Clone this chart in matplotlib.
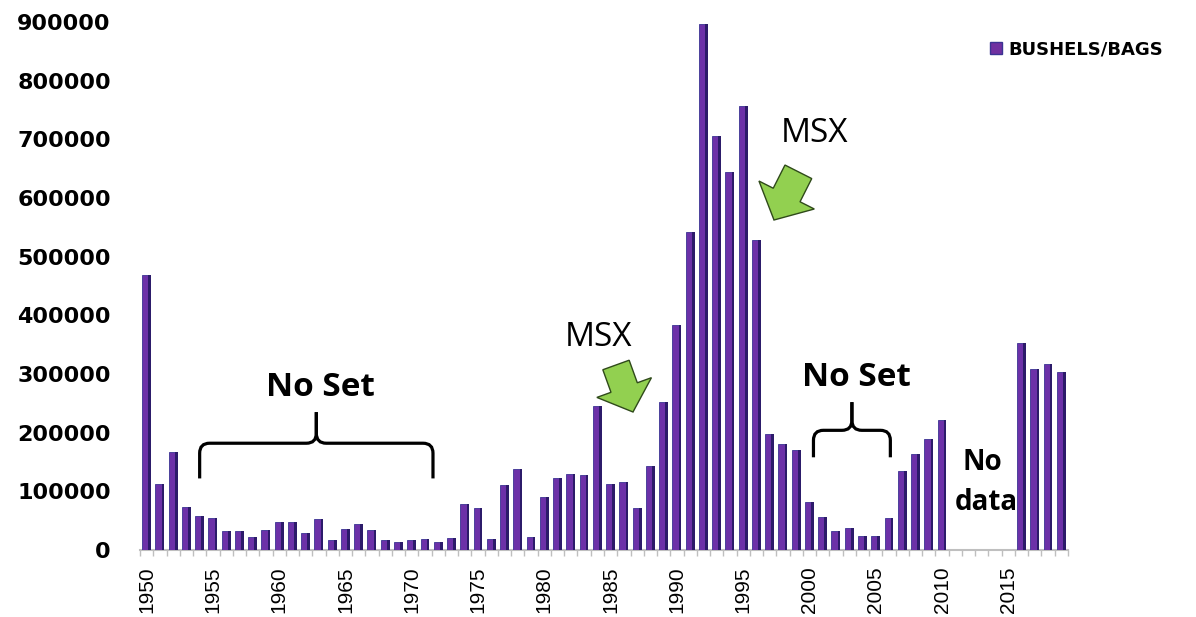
import numpy as np
import matplotlib.pyplot as plt
import matplotlib.patches as mpatches
from matplotlib.path import Path

# bushels/bags per year, None = no data
years = list(range(1950, 2020))
bushels = [469000, 112000, 167000, 73000, 58000, 55000, 33000, 32000, 22000, 34000,
           48000, 48000, 29000, 53000, 17000, 36000, 44000, 34000, 17000, 13000,
           17000, 18000, 13000, 20000, 78000, 72000, 18000, 111000, 138000, 23000,
           91000, 123000, 129000, 128000, 246000, 113000, 116000, 71000, 143000, 252000,
           383000, 542000, 897000, 706000, 645000, 757000, 528000, 197000, 181000, 171000,
           82000, 57000, 33000, 37000, 24000, 24000, 54000, 134000, 163000, 189000,
           222000, None, None, None, None, None, 352000, 308000, 317000, 304000]
yticks = list(range(0, 900001, 100000))

W, H = 1196, 617
fig = plt.figure(figsize=(W / 100, H / 100), dpi=100)
ax = fig.add_axes([140 / W, 1 - 550 / H, 928 / W, 528 / H])


def px(x, y):
    # pixel position (from top left) -> figure fraction
    return (x / W, 1 - y / H)


idx = np.arange(len(years))
have = np.array([v is not None for v in bushels])
vals = np.array([v if v is not None else 0 for v in bushels], dtype=float)

# front face + dark side to fake the 3d column look
ax.bar(idx[have] - 0.34, vals[have], width=0.47, align='edge',
       color='#6c31a8', edgecolor='#3b3393', linewidth=0.6, zorder=3)
ax.bar(idx[have] + 0.13, vals[have], width=0.2, align='edge',
       color='#2c1b6a', linewidth=0, zorder=3)

ax.set_xlim(-0.5, len(years) - 0.5)
ax.set_ylim(0, 900000)

ax.set_xticks(idx[::5])
ax.set_xticklabels([str(y) for y in years[::5]], rotation=90,
                   family='Liberation Sans', fontsize=15)
ax.set_xticks(np.arange(-0.5, len(years), 1), minor=True)
ax.tick_params(axis='x', which='major', length=0, pad=12)
ax.tick_params(axis='x', which='minor', length=4, color='#bfbfbf', width=1)

ax.set_yticks(yticks)
ax.set_yticklabels([str(v) for v in yticks], family='DejaVu Sans',
                   fontweight='bold', fontsize=16)
ax.tick_params(axis='y', length=0, pad=21)

for s in ['top', 'right', 'left']:
    ax.spines[s].set_visible(False)
ax.spines['bottom'].set_color('#bfbfbf')
ax.spines['bottom'].set_linewidth(1.5)


def brace(x0, x1, yb, yh, yt, rx=0.75, ry=17000):
    xm = (x0 + x1) / 2
    for a, sgn in [(x0, 1), (x1, -1)]:
        verts = [(a, yb), (a, yh - ry), (a, yh), (a + sgn * rx, yh),
                 (xm - sgn * rx, yh), (xm, yh), (xm, yh + ry), (xm, yt)]
        codes = [Path.MOVETO, Path.LINETO, Path.CURVE3, Path.CURVE3,
                 Path.LINETO, Path.CURVE3, Path.CURVE3, Path.LINETO]
        ax.add_patch(mpatches.PathPatch(Path(verts, codes), fill=False,
                                        lw=2.3, color='black', zorder=4,
                                        capstyle='butt'))


brace(4.0, 21.6, 122000, 182000, 235000)
brace(50.3, 56.1, 158000, 204000, 252000)


def block_arrow(tip, direction, head_len, head_w, shaft_len, shaft_w):
    d = np.array(direction, float)
    d /= np.hypot(*d)
    n = np.array([-d[1], d[0]])
    tip = np.array(tip, float)
    base = tip - d * head_len
    tail = base - d * shaft_len
    pts = [tip, base + n * head_w / 2, base + n * shaft_w / 2,
           tail + n * shaft_w / 2, tail - n * shaft_w / 2,
           base - n * shaft_w / 2, base - n * head_w / 2]
    pts = [px(*p) for p in pts]
    fig.add_artist(mpatches.Polygon(pts, closed=True, transform=fig.transFigure,
                                    facecolor='#92d050', edgecolor='#2f4a1a',
                                    lw=1, zorder=5))


block_arrow((633, 412), (0.34, 0.94), 26, 58, 24, 28)
block_arrow((774, 220), (-0.45, 0.89), 28, 62, 26, 30)

big = dict(family='Open Sans', ha='center', va='center')
fig.text(*px(320, 387), 'No Set', fontsize=24, fontweight='bold', **big)
fig.text(*px(856, 377), 'No Set', fontsize=24, fontweight='bold', **big)
fig.text(*px(598, 337), 'MSX', fontsize=24, **big)
fig.text(*px(815, 134), 'MSX', fontsize=24, **big)
fig.text(*px(982, 462), 'No', fontsize=20, fontweight='bold', **big)
fig.text(*px(986, 503), 'data', fontsize=20, fontweight='bold', **big)

fig.legend(handles=[mpatches.Patch(facecolor='#7030a0', edgecolor='#3b3393',
                                   label='BUSHELS/BAGS')],
           loc='center left', bbox_to_anchor=px(990, 49), frameon=False,
           handlelength=0.65, handleheight=0.65, handletextpad=0.35,
           borderpad=0, borderaxespad=0,
           prop=dict(family='DejaVu Sans', weight='bold', size=13))

fig.savefig('out.png', dpi=100)
